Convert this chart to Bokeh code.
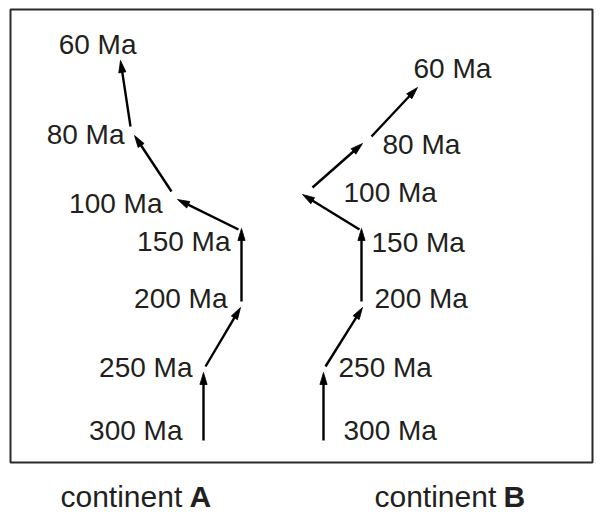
import math
from bokeh.plotting import figure
from bokeh.models import Range1d
from bokeh.core.properties import value
from bokeh.embed import file_html
from bokeh.resources import INLINE

# ---- data (schematic positions, page-pixel frame) ----
ages = ["300 Ma", "250 Ma", "200 Ma", "150 Ma", "100 Ma", "80 Ma", "60 Ma"]

# continent A path segments (start -> end)
a_x0 = [203, 205, 241, 238, 171, 130]
a_y0 = [440, 366, 301, 229, 191, 126]
a_x1 = [203, 240, 241, 177, 134, 120]
a_y1 = [372, 307, 228, 199, 135, 60]
# continent A label anchors (right aligned, baseline)
a_lx = [182, 192, 227, 230, 162, 124, 136]
a_ly = [439, 376, 307, 250, 212, 143, 53]

# continent B path segments
b_x0 = [323, 325, 361, 359, 312, 371]
b_y0 = [440, 366, 301, 229, 187, 136]
b_x1 = [323, 362, 361, 302, 362, 417]
b_y1 = [372, 307, 228, 194, 143, 87]
# continent B label anchors (left aligned, baseline)
b_lx = [343, 338, 374, 371, 343, 382, 413]
b_ly = [439, 376, 307, 251, 201, 153, 77]

continents = ["continent", "continent"]
continent_ids = ["A", "B"]
cont_x = [60, 374]
cont_id_x = [189, 503]
cont_y = [496, 496]   # vertical centre of the caption line

frame_l, frame_r, frame_t, frame_b = 10, 592, 9, 462

INK = "#231f20"
FONT = "Liberation Sans"
BASE_SHIFT = -9  # compensate renderer's baseline placement

p = figure(width=600, height=512, output_backend="svg", toolbar_location=None,
           x_range=Range1d(0, 600), y_range=Range1d(512, 0),
           min_border=0, outline_line_color=None)
p.axis.visible = False
p.grid.visible = False
p.background_fill_color = "white"
p.border_fill_color = "white"

p.quad(left=[frame_l], right=[frame_r], top=[frame_t], bottom=[frame_b],
       fill_color=None, line_color="#2a2a2a", line_width=2)


def arrows(x0, y0, x1, y1, L=12.0, W=3.6):
    lx, ly, hx, hy = [], [], [], []
    for sx, sy, ex, ey in zip(x0, y0, x1, y1):
        dx, dy = ex - sx, ey - sy
        n = math.hypot(dx, dy)
        ux, uy = dx / n, dy / n
        bx, by = ex - L * ux, ey - L * uy
        lx.append([sx, ex - 0.6 * L * ux])
        ly.append([sy, ey - 0.6 * L * uy])
        px, py = -uy, ux
        hx.append([ex, bx + W * px, bx - W * px])
        hy.append([ey, by + W * py, by - W * py])
    return lx, ly, hx, hy


for x0, y0, x1, y1 in [(a_x0, a_y0, a_x1, a_y1), (b_x0, b_y0, b_x1, b_y1)]:
    lx, ly, hx, hy = arrows(x0, y0, x1, y1)
    p.multi_line(xs=lx, ys=ly, line_color="black", line_width=2.4)
    p.patches(xs=hx, ys=hy, fill_color="black", line_color="black", line_width=0.8)

p.text(x=a_lx, y=a_ly, text=ages, text_font=value(FONT), text_font_size="28px",
       text_align="right", text_baseline="alphabetic", text_color=INK,
       y_offset=BASE_SHIFT)
p.text(x=b_lx, y=b_ly, text=ages, text_font=value(FONT), text_font_size="28px",
       text_align="left", text_baseline="alphabetic", text_color=INK,
       y_offset=BASE_SHIFT)

p.text(x=cont_x, y=cont_y, text=continents, text_font=value(FONT),
       text_font_size="30px", text_align="left", text_baseline="middle",
       text_color=INK)
p.text(x=cont_id_x, y=cont_y, text=continent_ids, text_font=value(FONT),
       text_font_size="30px", text_font_style="bold", text_align="left",
       text_baseline="middle", text_color=INK)

open("out.html", "w").write(file_html(p, INLINE))
